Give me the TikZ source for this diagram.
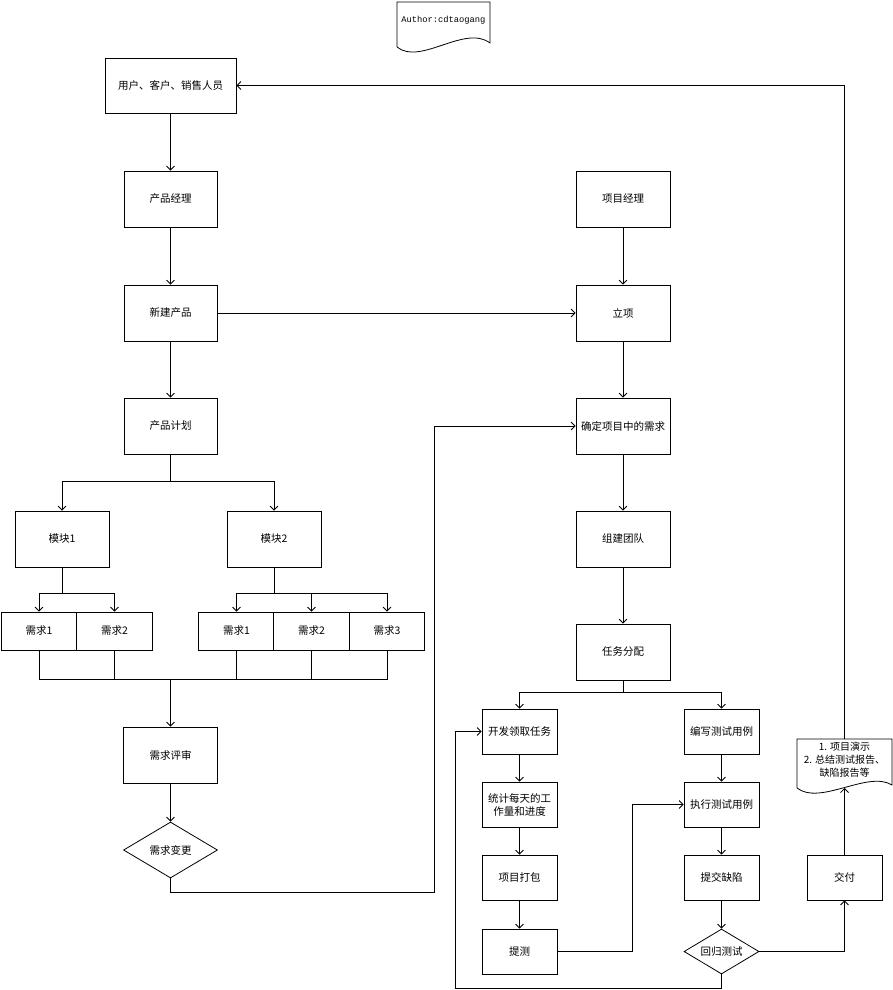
\documentclass[tikz,border=0pt]{standalone}
\usepackage{fontspec}
\setmainfont{Noto Sans CJK SC}
\newfontfamily\authorfont{Liberation Mono}
\usetikzlibrary{calc,shapes.geometric,arrows.meta}

\begin{document}
\begin{tikzpicture}[x=1pt,y=-1pt,line width=0.8pt,>={Straight Barb[length=4pt,width=8pt]},
		box/.style={draw,fill=white,minimum width=93pt,minimum height=56pt,inner sep=0pt,font=\fontsize{10.5}{13}\selectfont},
		sbox/.style={box,minimum width=75pt,minimum height=45pt,align=center},
		rbox/.style={box,minimum width=75.5pt,minimum height=38pt},
		dec/.style={box,diamond,aspect=2}]
		\useasboundingbox (0,0) rectangle (893,990);
		% document shapes
		\draw (397,47) -- (397,2) -- (490,2) -- (490,43) .. controls (465,24) and (420,66) .. (397,47);
		\node[font=\authorfont\fontsize{8.75}{10}\selectfont] (author) at (443.5,20) {Author:cdtaogang};
		\draw (797,788) -- (797,739) -- (892,739) -- (892,785) .. controls (868,770) and (820,806) .. (797,788);
		\node[align=center,inner sep=0pt,font=\fontsize{10}{12.8}\selectfont] (report) at (844.5,760) {1. 项目演示\\2. 总结测试报告、\\缺陷报告等};
		\coordinate (rtop) at (844.5,739);
		\coordinate (rbot) at (844.5,788);
		% left column
		\node[box,minimum width=131pt,minimum height=55pt] (user) at (170.5,85.5) {用户、客户、销售人员};
		\node[box] (pm) at (170.5,199) {产品经理};
		\node[box] (newprod) at (170.5,313) {新建产品};
		\node[box] (plan) at (170.5,426) {产品计划};
		\node[box,minimum width=94pt] (mod1) at (62,539) {模块1};
		\node[box,minimum width=94pt] (mod2) at (274,539) {模块2};
		\foreach \n/\x/\t in {r11/39/需求1,r12/114.5/需求2,r21/236.5/需求1,r22/311.5/需求2,r23/387/需求3}
			\node[rbox] (\n) at (\x,631) {\t};
		\node[box,minimum width=94pt] (review) at (170.5,755) {需求评审};
		\node[dec,minimum width=94pt] (change) at (170.5,850) {需求变更};
		% right column
		\node[box,minimum width=94pt] (pmgr) at (623,199) {项目经理};
		\node[box,minimum width=94pt] (lixiang) at (623,313) {立项};
		\node[box,minimum width=94pt] (confirm) at (623,426) {确定项目中的需求};
		\node[box,minimum width=94pt] (team) at (623,539) {组建团队};
		\node[box,minimum width=94pt] (assign) at (623,652) {任务分配};
		\node[sbox] (dev) at (519.5,731.5) {开发领取任务};
		\node[sbox] (stat) at (519.5,804.5) {统计每天的工\\作量和进度};
		\node[sbox] (pack) at (519.5,877.5) {项目打包};
		\node[sbox] (submit) at (519.5,951.5) {提测};
		\node[sbox] (tcase) at (721.5,731.5) {编写测试用例};
		\node[sbox] (exec) at (721.5,804.5) {执行测试用例};
		\node[sbox] (bug) at (721.5,877.5) {提交缺陷};
		\node[dec,minimum width=75pt,minimum height=45pt] (regress) at (721.5,951.5) {回归测试};
		\node[sbox] (deliver) at (844.5,877.5) {交付};
		% connectors
		\draw[->] (user) -- (pm);
		\draw[->] (pm) -- (newprod);
		\draw[->] (newprod) -- (plan);
		\draw[->] (newprod) -- (lixiang);
		\draw[->] (plan.south) -- ++(0,27) coordinate (p1) -| (mod1.north);
		\draw[->] (p1) -| (mod2.north);
		\draw[->] (mod1.south) -- ++(0,26) coordinate (m1) -| (r11.north);
		\draw[->] (m1) -| (r12.north);
		\draw[->] (mod2.south) -- ++(0,26) coordinate (m2) -| (r21.north);
		\draw[->] (m2) -| (r22.north);
		\draw[->] (m2) -| (r23.north);
		\coordinate (mg) at (170.5,679);
		\draw (r11.south) |- (mg);
		\draw (r23.south) |- (mg);
		\foreach \n in {r12,r21,r22}
			\draw (\n.south) -- (\n.south |- mg);
		\draw[->] (mg) -- (review);
		\draw[->] (review) -- (change);
		\draw[->] (change.south) -- ++(0,14) -| ([xshift=-141pt]confirm.west) -- (confirm.west);
		\draw[->] (pmgr) -- (lixiang);
		\draw[->] (lixiang) -- (confirm);
		\draw[->] (confirm) -- (team);
		\draw[->] (team) -- (assign);
		\draw[->] (assign.south) -- ++(0,12) coordinate (a1) -| (dev.north);
		\draw[->] (a1) -| (tcase.north);
		\draw[->] (dev) -- (stat);
		\draw[->] (stat) -- (pack);
		\draw[->] (pack) -- (submit);
		\draw[->] (submit.east) -- ++(75,0) |- (exec.west);
		\draw[->] (tcase) -- (exec);
		\draw[->] (exec) -- (bug);
		\draw[->] (bug) -- (regress);
		\draw[->] (regress.east) -| (deliver.south);
		\draw[->] (regress.south) -- ++(0,14) -| ([xshift=-26pt]dev.west) -- (dev.west);
		\draw[->] (deliver.north) -- (rbot);
		\draw[->] (rtop) |- (user.east);
	\end{tikzpicture}
\end{document}
